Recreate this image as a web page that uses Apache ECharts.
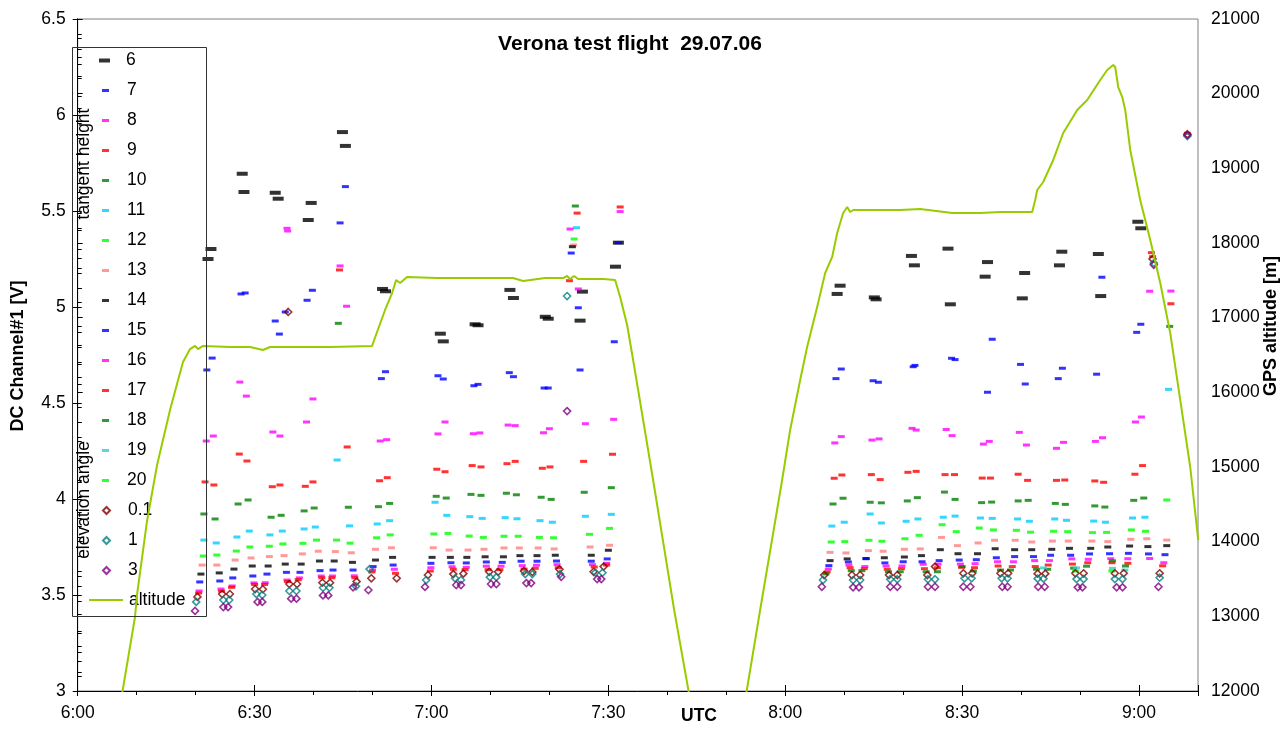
<!DOCTYPE html>
<html><head><meta charset="utf-8">
<script src="https://cdn.jsdelivr.net/npm/echarts@6/dist/echarts.min.js"></script>
<style>html,body{margin:0;padding:0;background:#fff}#c{width:1283px;height:731px}</style>
</head><body><div id="c"></div>
<script>
// time in minutes after 6:00 UTC, value in V
const th6 = [[22.1,5.250],[22.6,5.302],[27.9,5.694],[28.2,5.599],[33.5,5.595],[34.0,5.564],[39.1,5.453],[39.6,5.542],[44.9,5.911],[45.4,5.839],[51.7,5.094],[52.2,5.082],[61.5,4.861],[62.0,4.821],[67.4,4.910],[67.9,4.905],[73.3,5.089],[73.9,5.047],[79.3,4.949],[79.8,4.939],[85.2,4.929],[85.6,5.080],[91.2,5.210],[91.7,5.335],[128.8,5.068],[129.3,5.111],[135.1,5.050],[135.4,5.040],[141.4,5.266],[141.9,5.217],[147.6,5.304],[148.0,5.014],[153.9,5.158],[154.3,5.234],[160.2,5.045],[160.6,5.177],[166.5,5.217],[166.9,5.288],[173.1,5.276],[173.5,5.057],[179.8,5.444],[180.3,5.410]];
const th7 = [[21.9,4.672],[22.8,4.734],[27.7,5.068],[28.4,5.073],[33.5,4.927],[34.2,4.859],[35.2,4.974],[38.9,5.035],[39.8,5.087],[44.5,5.438],[45.4,5.627],[51.5,4.627],[52.2,4.663],[61.1,4.642],[62.0,4.625],[67.2,4.590],[67.9,4.597],[73.2,4.658],[73.9,4.637],[79.1,4.578],[79.8,4.578],[84.9,4.996],[85.2,4.672],[91.0,4.819],[91.7,5.335],[128.6,4.627],[129.5,4.677],[134.9,4.616],[135.8,4.608],[141.7,4.689],[142.0,4.696],[148.2,4.733],[148.8,4.726],[154.3,4.556],[155.1,4.832],[159.9,4.701],[160.7,4.599],[166.3,4.627],[167.0,4.681],[172.8,4.650],[173.7,5.155],[179.6,4.868],[180.3,4.910]];
const th8 = [[21.8,4.302],[23.0,4.328],[27.5,4.609],[28.6,4.536],[33.1,4.349],[34.3,4.328],[35.5,5.410],[35.6,5.396],[38.8,4.401],[39.9,4.521],[44.5,5.214],[45.6,5.004],[51.3,4.302],[52.4,4.309],[61.1,4.339],[62.3,4.401],[67.1,4.340],[68.2,4.344],[73.0,4.385],[74.2,4.382],[79.0,4.345],[80.0,4.366],[84.9,5.094],[86.1,4.392],[90.9,4.415],[92.0,5.497],[128.4,4.292],[129.5,4.325],[134.7,4.307],[135.9,4.313],[141.5,4.368],[142.2,4.359],[147.3,4.362],[148.3,4.330],[153.6,4.286],[154.6,4.300],[159.7,4.347],[160.9,4.281],[166.0,4.264],[167.2,4.295],[172.6,4.300],[173.8,4.319],[179.4,4.401],[180.4,4.427],[181.8,5.082],[185.4,5.083]];
const th9 = [[21.6,4.089],[23.1,4.073],[27.4,4.234],[28.7,4.198],[33.0,4.064],[34.3,4.073],[38.6,4.066],[39.9,4.089],[44.4,5.193],[45.7,4.271],[51.2,4.095],[52.5,4.111],[60.9,4.155],[62.3,4.142],[66.9,4.174],[68.4,4.167],[72.8,4.184],[74.2,4.196],[78.8,4.160],[80.1,4.167],[84.7,5.489],[85.8,4.196],[90.7,4.233],[92.0,5.521],[128.3,4.108],[129.6,4.125],[134.6,4.127],[136.1,4.101],[140.8,4.139],[142.2,4.144],[147.1,4.127],[148.7,4.127],[153.4,4.109],[154.8,4.109],[159.5,4.129],[161.1,4.097],[166.0,4.097],[167.4,4.099],[172.5,4.094],[174.0,4.087],[179.3,4.129],[180.6,4.174],[182.1,5.283],[185.4,5.017]];
const th10 = [[21.4,3.922],[23.3,3.896],[27.2,3.974],[28.9,3.995],[32.8,3.905],[34.5,3.915],[38.4,3.938],[40.1,3.953],[44.2,4.915],[45.9,3.957],[51.0,3.960],[52.9,3.977],[60.8,4.014],[62.5,4.005],[66.7,4.024],[68.4,4.019],[72.7,4.030],[74.4,4.022],[78.6,4.009],[80.3,3.998],[84.4,5.526],[85.9,4.035],[90.5,4.059],[128.1,3.974],[129.8,4.004],[134.4,3.983],[136.3,3.980],[140.7,3.990],[142.4,4.007],[147.0,4.036],[148.8,3.998],[153.3,3.981],[155.0,3.984],[159.5,3.990],[161.2,3.993],[165.8,3.977],[167.5,3.972],[172.5,3.964],[174.2,3.958],[179.1,3.993],[180.8,4.005],[185.2,4.899]];
const th11 = [[21.4,3.786],[23.5,3.771],[27.0,3.802],[29.1,3.833],[32.6,3.813],[34.7,3.833],[38.4,3.844],[40.3,3.854],[44.0,4.203],[46.1,3.860],[50.8,3.870],[52.9,3.887],[60.6,3.983],[62.6,3.915],[66.5,3.908],[68.6,3.899],[72.5,3.903],[74.5,3.897],[78.4,3.887],[80.5,3.879],[84.6,5.413],[86.1,3.910],[90.5,3.920],[127.9,3.859],[130.0,3.879],[134.4,3.922],[136.3,3.875],[140.5,3.884],[142.5,3.896],[146.8,3.905],[148.8,3.911],[153.1,3.901],[155.1,3.899],[159.4,3.896],[161.4,3.884],[165.7,3.896],[167.7,3.889],[172.3,3.885],[174.3,3.879],[178.9,3.901],[181.0,3.905],[185.0,4.571]];
const th12 = [[21.3,3.703],[23.6,3.708],[26.9,3.729],[29.2,3.750],[32.5,3.754],[34.8,3.766],[38.2,3.769],[40.5,3.786],[43.9,3.786],[46.2,3.770],[50.7,3.798],[53.0,3.813],[60.4,3.818],[62.8,3.821],[66.4,3.807],[68.8,3.800],[72.3,3.806],[74.7,3.806],[78.3,3.800],[80.7,3.798],[84.2,5.354],[86.8,3.816],[90.2,3.847],[127.8,3.776],[130.1,3.778],[134.2,3.785],[136.4,3.780],[140.3,3.793],[142.7,3.811],[146.6,3.866],[149.0,3.830],[152.9,3.849],[155.3,3.839],[159.2,3.837],[161.6,3.827],[165.5,3.832],[167.9,3.830],[172.1,3.825],[174.5,3.826],[178.7,3.839],[181.1,3.832],[184.7,3.995]];
const th13 = [[21.1,3.656],[23.6,3.656],[26.7,3.682],[29.4,3.693],[32.5,3.700],[35.0,3.705],[38.1,3.714],[40.8,3.728],[43.7,3.726],[46.4,3.720],[50.5,3.738],[53.2,3.746],[60.3,3.746],[63.0,3.734],[66.2,3.734],[68.9,3.738],[72.3,3.745],[74.9,3.745],[78.1,3.745],[80.8,3.740],[84.1,5.323],[86.9,3.750],[90.2,3.759],[127.6,3.722],[130.3,3.719],[134.1,3.731],[136.6,3.728],[140.2,3.738],[142.9,3.740],[146.5,3.800],[149.2,3.757],[152.7,3.771],[155.5,3.785],[159.0,3.785],[161.8,3.776],[165.3,3.781],[168.0,3.781],[172.0,3.781],[174.7,3.778],[178.6,3.790],[181.3,3.793],[184.7,3.786]];
const th14 = [[20.9,3.609],[24.0,3.615],[26.5,3.635],[29.6,3.651],[32.3,3.651],[35.2,3.661],[37.9,3.661],[41.0,3.677],[43.5,3.677],[46.6,3.670],[50.5,3.682],[53.4,3.696],[60.1,3.696],[63.2,3.696],[66.0,3.696],[69.1,3.699],[72.2,3.699],[75.0,3.705],[77.9,3.705],[81.0,3.707],[83.9,5.314],[87.1,3.707],[90.0,3.733],[127.6,3.679],[130.5,3.688],[133.7,3.690],[136.8,3.694],[140.2,3.698],[143.1,3.705],[146.3,3.736],[149.3,3.715],[152.6,3.715],[155.6,3.741],[158.9,3.736],[161.8,3.736],[165.2,3.738],[168.2,3.743],[171.8,3.743],[174.7,3.750],[178.4,3.755],[181.5,3.752],[184.7,3.757]];
const th15 = [[20.7,3.568],[24.1,3.573],[26.3,3.589],[29.7,3.599],[32.1,3.609],[35.4,3.618],[37.7,3.618],[41.1,3.627],[43.3,3.630],[46.7,3.630],[50.1,3.648],[53.5,3.656],[59.9,3.665],[63.3,3.668],[65.9,3.667],[69.3,3.672],[72.0,3.670],[75.2,3.676],[77.9,3.676],[81.2,3.677],[83.7,5.281],[87.1,3.676],[89.8,3.688],[127.4,3.653],[130.7,3.672],[133.7,3.689],[136.9,3.667],[140.0,3.673],[143.2,3.673],[146.1,3.679],[149.5,3.682],[152.4,3.684],[155.8,3.694],[158.9,3.700],[162.1,3.700],[165.0,3.707],[168.4,3.707],[171.6,3.714],[175.0,3.715],[178.2,3.717],[181.6,3.714],[184.4,3.710]];
const th16 = [[20.6,3.521],[24.3,3.531],[26.2,3.547],[29.9,3.563],[31.8,3.564],[35.5,3.578],[37.6,3.589],[41.3,3.599],[43.2,3.599],[46.9,3.600],[50.0,3.630],[53.7,3.634],[59.9,3.642],[63.5,3.647],[65.9,3.644],[69.3,3.650],[71.8,3.650],[75.4,3.653],[77.8,3.655],[81.3,3.658],[83.5,5.406],[87.3,3.658],[89.7,3.665],[127.3,3.635],[130.8,3.656],[133.5,3.648],[137.1,3.651],[139.8,3.651],[143.4,3.660],[145.9,3.661],[149.7,3.661],[152.2,3.663],[156.0,3.673],[158.7,3.673],[162.3,3.679],[164.8,3.679],[168.6,3.688],[171.4,3.686],[175.2,3.689],[178.1,3.689],[181.8,3.690],[184.2,3.668]];
const th17 = [[20.5,3.510],[24.4,3.520],[26.1,3.540],[30.0,3.555],[31.7,3.555],[35.6,3.570],[37.4,3.580],[41.4,3.590],[43.1,3.590],[47.0,3.590],[49.9,3.620],[53.9,3.613],[59.8,3.625],[63.7,3.634],[65.7,3.632],[69.6,3.632],[71.6,3.632],[75.7,3.635],[77.6,3.639],[81.5,3.642],[83.4,5.137],[87.6,3.646],[89.7,3.656],[127.1,3.620],[131.0,3.642],[133.4,3.637],[137.3,3.634],[139.7,3.637],[143.6,3.637],[145.8,3.642],[149.9,3.644],[152.1,3.642],[156.1,3.651],[158.5,3.648],[162.4,3.648],[164.6,3.656],[168.7,3.661],[171.3,3.668],[175.4,3.668],[178.1,3.665],[182.3,5.262],[184.0,3.652],[188.2,5.905]];
const th18 = [[126.9,3.610],[131.2,3.627],[133.0,3.627],[137.5,3.621],[139.5,3.621],[143.9,3.621],[145.8,3.621],[150.0,3.648],[151.9,3.625],[156.5,3.630],[158.2,3.630],[162.6,3.634],[164.5,3.634],[168.9,3.640],[171.1,3.650],[175.5,3.678],[177.7,3.651]];
const th19 = [[163.8,3.641],[169.4,3.641],[175.5,3.639],[177.6,3.630]];
const th20 = [[169.2,3.625],[175.4,3.625]];
const el01 = [[20.3,3.490],[24.5,3.505],[25.8,3.505],[30.1,3.531],[31.4,3.530],[35.9,3.557],[35.7,4.974],[37.2,3.557],[41.5,3.564],[42.8,3.564],[47.3,3.570],[49.8,3.587],[54.1,3.587],[59.4,3.604],[63.7,3.609],[65.4,3.611],[69.8,3.621],[71.3,3.621],[75.7,3.625],[77.1,3.620],[81.7,3.634],[87.5,3.621],[89.2,3.648],[126.6,3.604],[131.3,3.604],[132.7,3.604],[137.6,3.604],[139.0,3.604],[144.1,3.604],[145.4,3.648],[150.2,3.613],[151.7,3.613],[156.5,3.613],[157.8,3.613],[162.8,3.611],[164.1,3.611],[169.2,3.613],[170.6,3.613],[175.9,3.613],[177.4,3.613],[182.3,5.250],[183.5,3.613],[188.2,5.900]];
const el1 = [[20.1,3.464],[24.7,3.474],[25.7,3.474],[30.3,3.505],[31.3,3.500],[35.9,3.521],[37.1,3.521],[41.6,3.538],[42.7,3.538],[47.2,3.545],[49.5,3.635],[59.1,3.578],[64.0,3.587],[65.0,3.578],[69.9,3.593],[71.0,3.593],[75.9,3.609],[77.1,3.609],[81.8,3.609],[83.0,5.057],[87.8,3.616],[89.0,3.616],[126.4,3.578],[131.5,3.578],[132.7,3.578],[137.8,3.582],[139.0,3.582],[144.2,3.582],[145.4,3.582],[150.4,3.587],[151.6,3.587],[156.7,3.587],[157.7,3.587],[162.8,3.585],[163.8,3.585],[169.4,3.583],[170.6,3.583],[175.9,3.583],[177.2,3.583],[182.5,5.229],[183.5,3.590],[188.2,5.890]];
const el3 = [[19.9,3.417],[24.7,3.437],[25.5,3.437],[30.5,3.464],[31.3,3.464],[36.2,3.481],[37.1,3.481],[41.6,3.498],[42.5,3.498],[46.7,3.540],[49.3,3.526],[58.9,3.542],[64.2,3.552],[65.0,3.552],[70.1,3.557],[71.0,3.557],[76.1,3.562],[76.9,3.562],[82.0,3.595],[83.0,4.458],[88.1,3.583],[88.8,3.583],[126.2,3.543],[131.5,3.540],[132.5,3.540],[137.8,3.543],[139.0,3.543],[144.2,3.543],[145.4,3.543],[150.2,3.543],[151.4,3.543],[156.8,3.543],[157.7,3.543],[162.9,3.543],[164.0,3.543],[169.6,3.540],[170.4,3.540],[176.2,3.540],[177.2,3.540],[182.5,5.220],[183.3,3.543],[188.2,5.896]];
// GPS altitude [m]
const altitude = [[7.35,11880],[9.72,12991],[10.06,13286],[11.76,14277],[13.46,15027],[15.66,15763],[16.84,16112],[17.86,16406],[19.05,16580],[19.90,16621],[20.41,16580],[21.26,16621],[25.85,16607],[29.23,16607],[31.44,16567],[32.62,16607],[37.71,16607],[42.80,16607],[49.92,16621],[50.77,16808],[52.13,17103],[53.32,17330],[54.0,17504],[54.68,17464],[55.86,17545],[60.95,17531],[66.55,17531],[73.84,17531],[75.54,17491],[79.27,17531],[82.32,17531],[83.0,17558],[83.51,17518],[84.19,17558],[84.87,17518],[89.11,17518],[91.15,17504],[92.0,17277],[93.18,16902],[94.2,16433],[95.05,16031],[97.59,14826],[101.16,13085],[103.87,11880],[113.2,11880],[115.74,13085],[119.47,14826],[120.83,15496],[122.53,16165],[123.71,16607],[125.41,17143],[126.77,17598],[127.96,17813],[128.81,18134],[129.82,18402],[130.50,18482],[131.01,18415],[131.52,18442],[139.49,18442],[142.88,18455],[148.31,18402],[153.06,18402],[156.45,18415],[161.88,18415],[162.39,18576],[162.73,18710],[163.75,18817],[165.45,19112],[167.14,19473],[169.52,19781],[171.21,19915],[173.42,20183],[174.6,20317],[175.62,20384],[175.96,20357],[176.47,20089],[177.15,19955],[177.66,19781],[178.51,19246],[180.2,18576],[181.9,18040],[183.6,17464],[185.29,16795],[186.99,15897],[188.68,15000],[190.04,14022]];

const thNames = ['6','7','8','9','10','11','12','13','14','15','16','17','18','19','20'];
const thSeriesData = [th6,th7,th8,th9,th10,th11,th12,th13,th14,th15,th16,th17,th18,th19,th20];
const elevNames = ['0.1','1','3'];
const elevSeriesData = [el01, el1, el3];
const titleText = 'Verona test flight  29.07.06';

const thColors = ['#000000','#0000FF','#FF00FF','#FF0000','#008000','#00CCFF','#00FF00','#FF8080','#000000','#0000FF','#FF00FF','#FF0000','#008000','#33CCCC','#00FF00'];
const elevColors = ['#800000','#008080','#800080'];
const FONT = "'Liberation Sans', Arial, Helvetica, sans-serif";

function fmtTime(v){ const h = 6 + Math.floor(v/60); const m = Math.round(v%60); return h + ':' + (m<10?'0':'') + m; }

const series = [];
thNames.forEach((n,i)=>{
  series.push({name:n,type:'scatter',xAxisIndex:0,yAxisIndex:0,data:thSeriesData[i],symbol:'rect',
    symbolSize: i===0?[11,4]:[7,3], itemStyle:{color:thColors[i]}, emphasis:{disabled:true}, animation:false});
});
elevNames.forEach((n,i)=>{
  series.push({name:n,type:'scatter',xAxisIndex:0,yAxisIndex:0,data:elevSeriesData[i],symbol:'diamond',symbolSize:7,
    itemStyle:{color:'rgba(255,255,255,0)',borderColor:elevColors[i],borderWidth:1.6}, emphasis:{disabled:true}, animation:false});
});
series.push({name:'altitude',type:'line',xAxisIndex:0,yAxisIndex:1,data:altitude,symbol:'none',showSymbol:false,
  lineStyle:{color:'#99CC00',width:2},itemStyle:{color:'#99CC00'},clip:true,animation:false,z:5});

const legText = {fontSize:17.5,color:'#000',fontFamily:FONT,lineHeight:20};
const legBase = {orient:'vertical',itemGap:10,padding:0,selectedMode:false};

const option = {
  animation:false,
  backgroundColor:'#ffffff',
  title:{text:titleText,left:630,top:34,textAlign:'center',padding:0,
    textStyle:{fontSize:21,fontWeight:'bold',color:'#000',fontFamily:FONT}},
  grid:{left:77.7,right:85,top:19,bottom:40,show:true,borderColor:'#808080',borderWidth:1,backgroundColor:'transparent'},
  legend:[
    Object.assign({},legBase,{data:['6'],left:99,top:50.5,itemWidth:11,itemHeight:4,icon:'rect',textStyle:Object.assign({},legText,{padding:[0,0,0,11]})}),
    Object.assign({},legBase,{data:thNames.slice(1),left:102,top:80.5,itemWidth:7,itemHeight:3,icon:'rect',textStyle:Object.assign({},legText,{padding:[0,0,0,13]})}),
    Object.assign({},legBase,{data:elevNames,left:102,top:500.5,itemWidth:7,itemHeight:7,icon:'diamond',textStyle:Object.assign({},legText,{padding:[0,0,0,13]})}),
    Object.assign({},legBase,{data:[{name:'altitude',icon:'rect'}],left:89,top:590,itemWidth:34,itemHeight:2,
      itemStyle:{color:'#99CC00',borderWidth:0},textStyle:Object.assign({},legText,{padding:[0,0,0,1]})})
  ],
  xAxis:[
    {type:'value',position:'bottom',min:0,max:190,interval:30,
      axisLine:{show:true,lineStyle:{color:'#000',width:1}},
      axisTick:{show:true,inside:false,length:5,lineStyle:{color:'#000'}},
      minorTick:{show:true,splitNumber:3,length:4,lineStyle:{color:'#000'}},
      splitLine:{show:false},minorSplitLine:{show:false},
      axisLabel:{formatter:fmtTime,fontSize:17.5,color:'#000',fontFamily:FONT,margin:13,showMaxLabel:false}},
    {type:'value',position:'bottom',min:0,max:190,interval:30,
      axisLine:{show:false},axisTick:{show:true,inside:true,length:6,lineStyle:{color:'#000'}},
      minorTick:{show:false},splitLine:{show:false},axisLabel:{show:false}}
  ],
  yAxis:[
    {type:'value',position:'left',min:3,max:6.5,interval:0.5,
      axisLine:{show:true,lineStyle:{color:'#000',width:1}},
      axisTick:{show:true,inside:false,length:5,lineStyle:{color:'#000'}},
      minorTick:{show:false},splitLine:{show:false},
      axisLabel:{fontSize:17.5,color:'#000',fontFamily:FONT,margin:12,formatter:(v)=>String(v)}},
    {type:'value',position:'right',min:12000,max:21000,interval:1000,
      axisLine:{show:true,lineStyle:{color:'#000',width:1}},
      axisTick:{show:true,inside:false,length:5,lineStyle:{color:'#000'}},
      minorTick:{show:true,splitNumber:5,length:4,lineStyle:{color:'#000'}},
      splitLine:{show:false},
      axisLabel:{fontSize:17.5,color:'#000',fontFamily:FONT,margin:13,formatter:(v)=>String(Math.round(v))}},
    {type:'value',position:'left',min:3,max:6.5,interval:0.5,
      axisLine:{show:false},axisTick:{show:true,inside:true,length:4,lineStyle:{color:'#000'}},
      minorTick:{show:true,splitNumber:5,length:4,lineStyle:{color:'#000'}},
      splitLine:{show:false},axisLabel:{show:false}}
  ],
  graphic:[
    {type:'rect',left:70,top:45,shape:{width:134,height:569},style:{fill:'none',stroke:'#333',lineWidth:1},z:100,silent:true},
    {type:'text',x:84,y:164,rotation:Math.PI/2,style:{text:'tangent height',font:'17.5px '+FONT,fill:'#000',align:'center',verticalAlign:'middle'},z:100,silent:true},
    {type:'text',x:84,y:500,rotation:Math.PI/2,style:{text:'elevation angle',font:'17.5px '+FONT,fill:'#000',align:'center',verticalAlign:'middle'},z:100,silent:true},
    {type:'text',x:18,y:356,rotation:Math.PI/2,style:{text:'DC Channel#1 [V]',font:'bold 18px '+FONT,fill:'#000',align:'center',verticalAlign:'middle'},silent:true},
    {type:'text',x:1271,y:326,rotation:Math.PI/2,style:{text:'GPS altitude [m]',font:'bold 18px '+FONT,fill:'#000',align:'center',verticalAlign:'middle'},silent:true},
    {type:'text',x:699,y:716,style:{text:'UTC',font:'bold 17.5px '+FONT,fill:'#000',align:'center',verticalAlign:'middle'},silent:true}
  ],
  series:series
};
const chart = echarts.init(document.getElementById('c'),null,{renderer:'canvas'});
chart.setOption(option);
</script></body></html>
